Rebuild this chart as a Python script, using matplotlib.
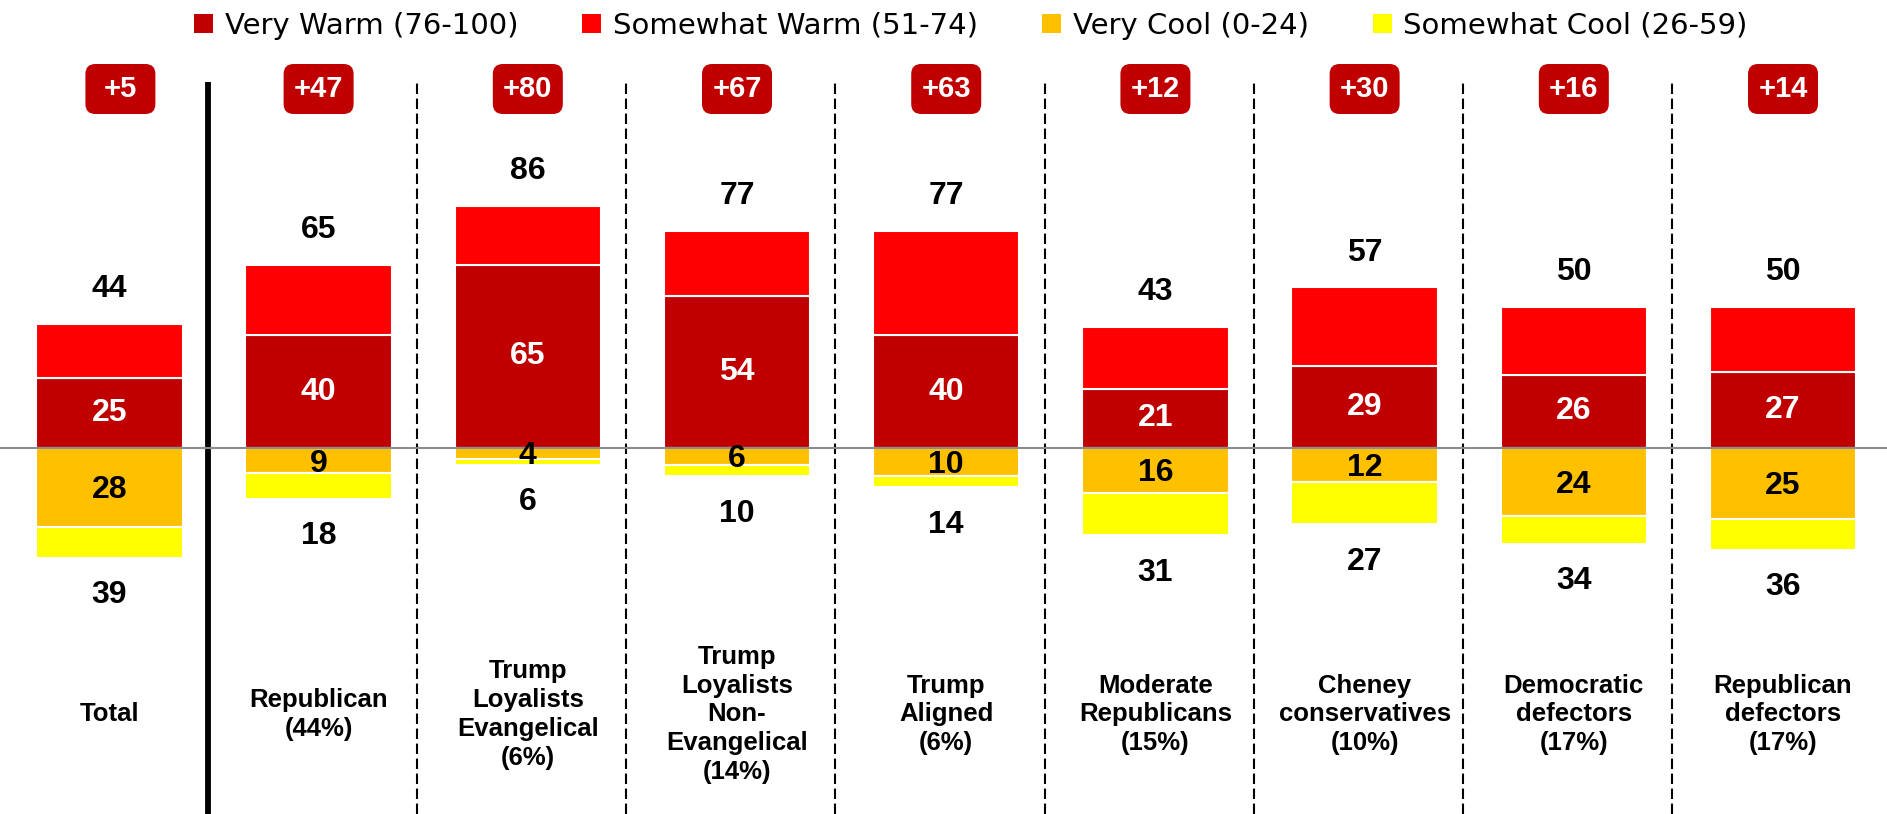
import matplotlib
matplotlib.use("Agg")
import matplotlib.pyplot as plt
from matplotlib.patches import Patch, FancyBboxPatch
from matplotlib.transforms import IdentityTransform

groups = ["Total", "Republican\n(44%)", "Trump\nLoyalists\nEvangelical\n(6%)",
          "Trump\nLoyalists\nNon-\nEvangelical\n(14%)", "Trump\nAligned\n(6%)",
          "Moderate\nRepublicans\n(15%)", "Cheney\nconservatives\n(10%)",
          "Democratic\ndefectors\n(17%)", "Republican\ndefectors\n(17%)"]
total_warm = [44, 65, 86, 77, 77, 43, 57, 50, 50]
very_warm = [25, 40, 65, 54, 40, 21, 29, 26, 27]
total_cool = [39, 18, 6, 10, 14, 31, 27, 34, 36]
very_cool = [28, 9, 4, 6, 10, 16, 12, 24, 25]
net = ["+5", "+47", "+80", "+67", "+63", "+12", "+30", "+16", "+14"]
legend_labels = ["Very Warm (76-100)", "Somewhat Warm (51-74)",
                 "Very Cool (0-24)", "Somewhat Cool (26-59)"]

C_VW = "#C00000"
C_SW = "#FF0000"
C_VC = "#FFC000"
C_SC = "#FFFF00"

W, H = 1887, 814
fig = plt.figure(figsize=(W / 100, H / 100), dpi=100)
ax = fig.add_axes([0, 0, 1, 1])
ax.set_xlim(-0.523, 8.497)
ax.set_ylim(-129.8, 158.9)
ax.axis("off")

FONT = "Liberation Sans"
x = list(range(len(groups)))
bw = 0.70
somewhat_warm = [t - v for t, v in zip(total_warm, very_warm)]
somewhat_cool = [t - v for t, v in zip(total_cool, very_cool)]

ax.bar(x, very_warm, width=bw, color=C_VW, edgecolor="white", linewidth=1.5, zorder=2)
ax.bar(x, somewhat_warm, bottom=very_warm, width=bw, color=C_SW, edgecolor="white", linewidth=1.5, zorder=2)
ax.bar(x, [-v for v in very_cool], width=bw, color=C_VC, edgecolor="white", linewidth=1.5, zorder=2)
ax.bar(x, [-v for v in somewhat_cool], bottom=[-v for v in very_cool], width=bw,
       color=C_SC, edgecolor="white", linewidth=1.5, zorder=2)

# zero line
ax.axhline(0, color="#8c8c8c", linewidth=1.5, zorder=3)

# separators
ytop = ax.transData.inverted().transform((0, H - 82))[1]
for i in range(1, len(groups)):
    xs = i - 0.53
    if i == 1:
        ax.plot([xs, xs], [-129.8, ytop], color="black", linewidth=4.2, zorder=1,
                solid_capstyle="butt")
    else:
        ax.plot([xs, xs], [-129.8, ytop], color="black", linewidth=1.5,
                dashes=(5, 2.2), zorder=1)

# value labels
for i in x:
    ax.text(i, total_warm[i] + 12.3, str(total_warm[i]), ha="center", va="center",
            fontsize=23, fontweight="bold", family=FONT, color="black", zorder=4)
    ax.text(i, very_warm[i] / 2, str(very_warm[i]), ha="center", va="center",
            fontsize=23, fontweight="bold", family=FONT, color="white", zorder=4)
    ax.text(i, -very_cool[i] / 2 - 1.0, str(very_cool[i]), ha="center", va="center",
            fontsize=23, fontweight="bold", family=FONT, color="black", zorder=4)
    ax.text(i, -total_cool[i] - 13.3, str(total_cool[i]), ha="center", va="center",
            fontsize=23, fontweight="bold", family=FONT, color="black", zorder=4)
    ax.text(i, -94.5, groups[i], ha="center", va="center", fontsize=18.5,
            fontweight="bold", family=FONT, color="black", linespacing=1.25, zorder=4)

# net badges
for i in x:
    cx, cy = ax.transData.transform((i, 0))
    cx += 11 if i == 0 else 0
    cy = H - 89
    box = FancyBboxPatch((cx - 35, cy - 25), 70, 50,
                         boxstyle="round,pad=0,rounding_size=10",
                         facecolor=C_VW, edgecolor="none",
                         transform=IdentityTransform())
    fig.add_artist(box)
    fig.text(cx / W, cy / H, net[i], ha="center", va="center", fontsize=21,
             fontweight="bold", family=FONT, color="white")

handles = [Patch(facecolor=c, edgecolor="none") for c in (C_VW, C_SW, C_VC, C_SC)]
fig.legend(handles, legend_labels, loc="upper center", bbox_to_anchor=(0.5145, 1.0),
           ncol=4, frameon=False, prop={"family": "DejaVu Sans", "size": 21},
           handlelength=0.65, handleheight=0.65, handletextpad=0.4, columnspacing=2.2,
           borderaxespad=0.0)

fig.savefig("out.png", dpi=100)
